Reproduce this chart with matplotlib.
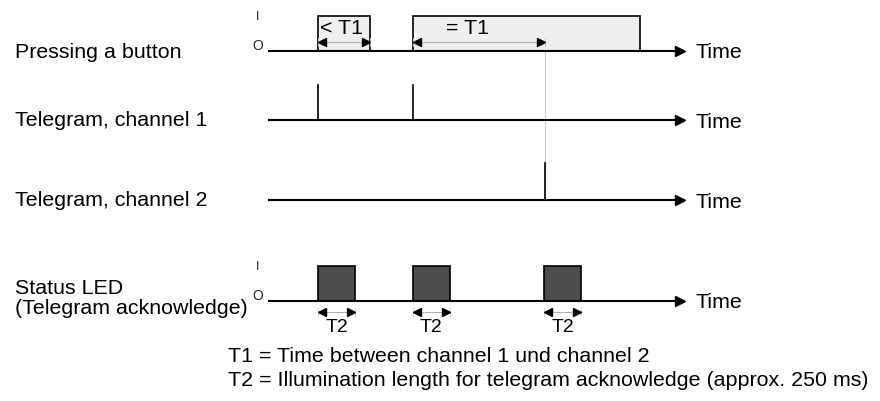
import matplotlib.pyplot as plt
from matplotlib.patches import Rectangle

plt.rcParams['font.family'] = ['Liberation Sans', 'DejaVu Sans']

# time values (diagram units, left edge of the signal lines = 268)
t_start = 268
t_end = 683
press_on = [318, 413]
press_off = [370, 640]
ch1_pulses = [318, 413]
ch2_pulses = [545]
led_on = [318, 413, 544]
led_len = 37
t1_marks = [(318, 370, "< T1"), (413, 545, "= T1")]

row_labels = ["Pressing a button", "Telegram, channel 1", "Telegram, channel 2",
              "Status LED\n(Telegram acknowledge)"]
row_y = [51, 120, 200, 301]
notes = ["T1 = Time between channel 1 und channel 2",
         "T2 = Illumination length for telegram acknowledge (approx. 250 ms)"]

fig = plt.figure(figsize=(8.8, 4.01), dpi=100)
ax = fig.add_axes([0, 0, 1, 1])
ax.set_xlim(0, 880)
ax.set_ylim(401, 0)
ax.axis("off")

def time_axis(y):
    ax.plot([t_start, t_end - 6], [y, y], color="black", lw=1.5, solid_capstyle="butt", zorder=3)
    ax.plot([t_end - 3], [y], marker=">", color="black", ms=7, zorder=3)
    ax.text(695, y + 2, "Time", fontsize=15.4, va="center", ha="left")

def dbl_arrow(x0, x1, y):
    ax.plot([x0, x1], [y, y], color="#b0b0b0", lw=0.8, zorder=4)
    ax.plot([x0 + 4], [y], marker="<", color="black", ms=6, zorder=5)
    ax.plot([x1 - 4], [y], marker=">", color="black", ms=6, zorder=5)
    ax.plot([x0, x0], [y - 4, y + 4], color="#c8c8c8", lw=0.6, zorder=4)
    ax.plot([x1, x1], [y - 4, y + 4], color="#c8c8c8", lw=0.6, zorder=4)

# row labels
for lab, y in zip(row_labels, row_y):
    if "\n" in lab:
        a, b = lab.split("\n")
        ax.text(15, 288, a, fontsize=15.4, va="center", ha="left")
        ax.text(15, 309, b, fontsize=15.4, va="center", ha="left")
    else:
        ax.text(15, y + 1, lab, fontsize=15.4, va="center", ha="left")

# I/O labels
for y_top, y_base in [(16, 51), (266, 301)]:
    ax.text(258, y_top + 1, "I", fontsize=9, va="center", ha="center", color="#222222")
    ax.text(258, y_base - 5, "O", fontsize=10, va="center", ha="center", color="#222222")

# pressing a button
y = row_y[0]
for a, b in zip(press_on, press_off):
    ax.add_patch(Rectangle((a, 16), b - a, y - 16, fc="#efefef", ec="black", lw=1.2, zorder=2))
time_axis(y)
ax.plot([545, 545], [42, 200], color="#c8c8c8", lw=0.8, zorder=1)
for a, b, lab in t1_marks:
    dbl_arrow(a, b, 42)
ax.text(320, 29, t1_marks[0][2], fontsize=15.4, va="center", ha="left")
ax.text(468, 29, t1_marks[1][2], fontsize=15.4, va="center", ha="center")

# channel 1
y = row_y[1]
time_axis(y)
for x in ch1_pulses:
    ax.plot([x, x], [85, y], color="black", lw=1.2, zorder=3)

# channel 2
y = row_y[2]
time_axis(y)
for x in ch2_pulses:
    ax.plot([x, x], [163, y], color="black", lw=1.2, zorder=3)

# status LED
y = row_y[3]
for x in led_on:
    ax.add_patch(Rectangle((x, 266), led_len, y - 266, fc="#4d4d4d", ec="black", lw=1.2, zorder=2))
    dbl_arrow(x, x + led_len, 312)
    ax.text(x + led_len / 2, 328, "T2", fontsize=14, va="center", ha="center")
time_axis(y)

# notes
ax.text(228, 357, notes[0], fontsize=15.4, va="center", ha="left")
ax.text(228, 380, notes[1], fontsize=15.4, va="center", ha="left")

fig.savefig("out.png", dpi=100)
